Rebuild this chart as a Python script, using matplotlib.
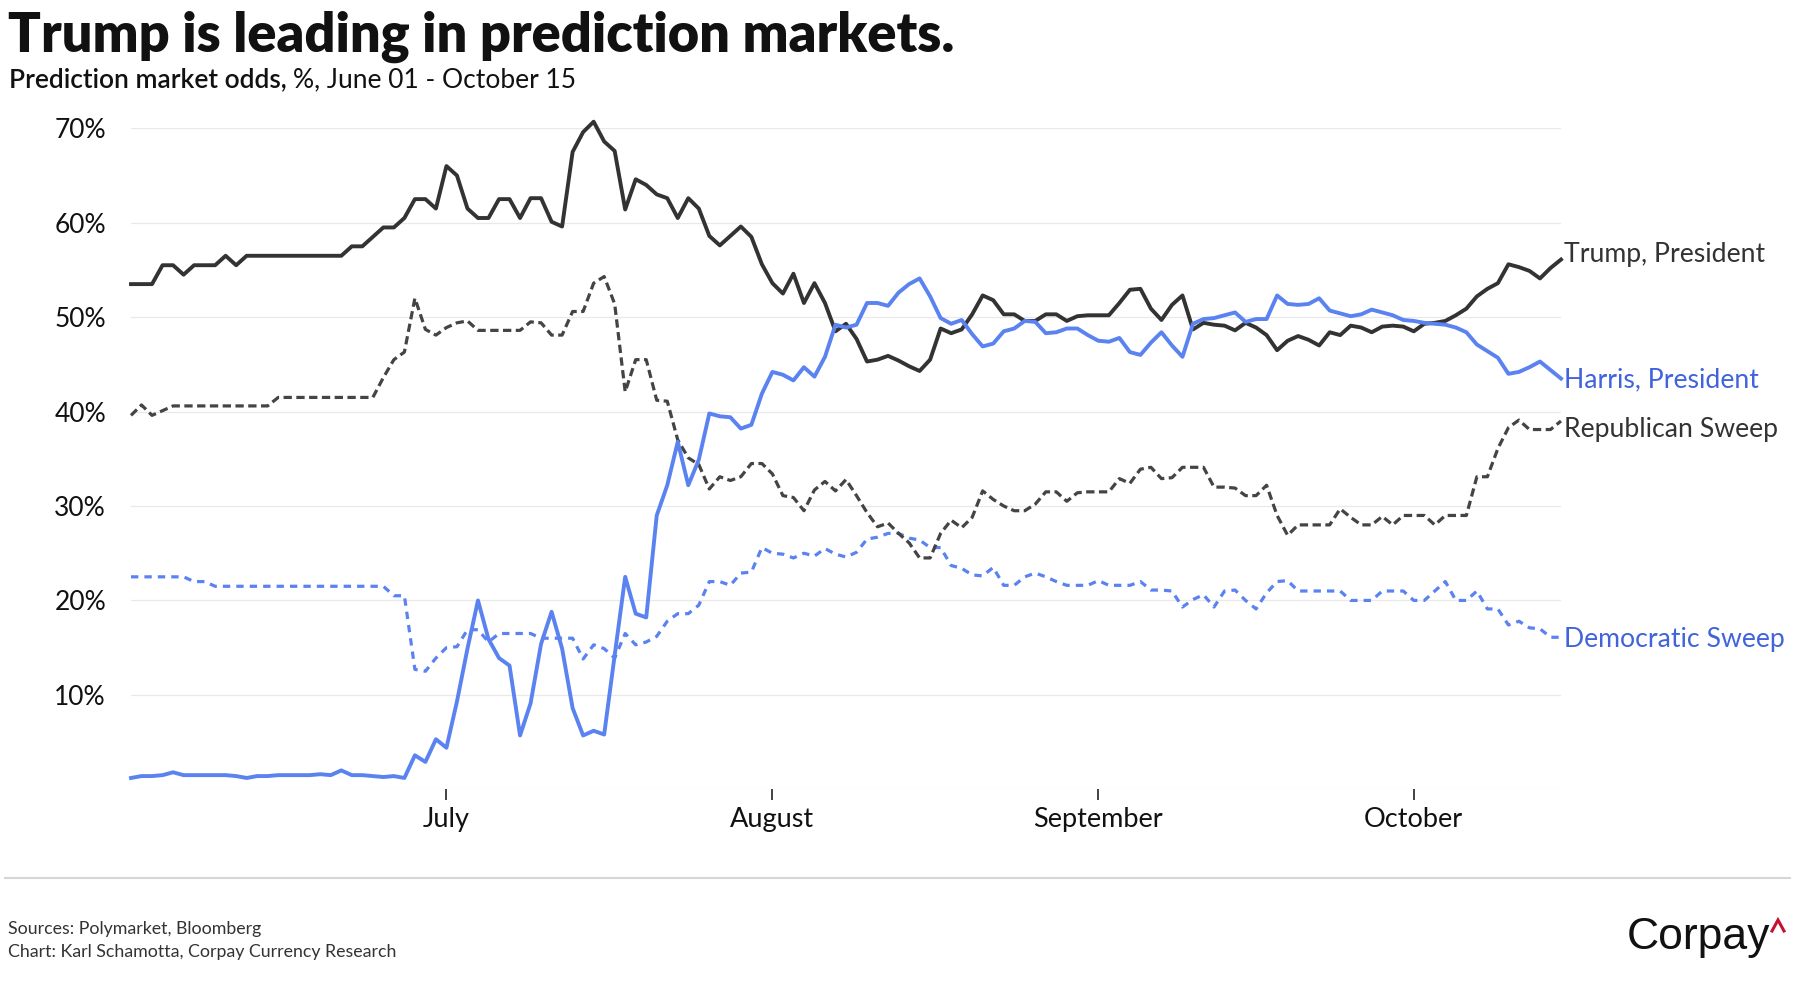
import matplotlib
matplotlib.use('Agg')
import numpy as np
import pandas as pd
import matplotlib.pyplot as plt
import matplotlib.dates as mdates
from matplotlib.ticker import FuncFormatter
from matplotlib.lines import Line2D

plt.rcParams['font.family'] = ['Lato', 'DejaVu Sans']

# ── Data: daily prediction market odds (%), June 01 - October 15 ──
dates = pd.date_range('2024-06-01', '2024-10-15', freq='D')

trump_president = [
    53.5, 53.5, 53.5, 55.5, 55.5, 54.5, 55.5, 55.5, 55.5, 56.5,
    55.5, 56.5, 56.5, 56.5, 56.5, 56.5, 56.5, 56.5, 56.5, 56.5,
    56.5, 57.5, 57.5, 58.5, 59.5, 59.5, 60.5, 62.5, 62.5, 61.5,
    66.0, 65.0, 61.5, 60.5, 60.5, 62.5, 62.5, 60.5, 62.6, 62.6,
    60.1, 59.6, 67.5, 69.6, 70.7, 68.6, 67.6, 61.4, 64.6, 64.0,
    63.0, 62.6, 60.5, 62.6, 61.5, 58.6, 57.6, 58.6, 59.6, 58.5,
    55.6, 53.6, 52.5, 54.6, 51.5, 53.6, 51.5, 48.5, 49.3, 47.7,
    45.3, 45.5, 45.9, 45.4, 44.8, 44.3, 45.5, 48.8, 48.3, 48.7,
    50.3, 52.3, 51.8, 50.3, 50.3, 49.6, 49.6, 50.3, 50.3, 49.6,
    50.1, 50.2, 50.2, 50.2, 51.5, 52.9, 53.0, 50.9, 49.7, 51.3,
    52.3, 48.7, 49.4, 49.2, 49.1, 48.6, 49.4, 48.9, 48.1, 46.5,
    47.5, 48.0, 47.6, 47.0, 48.4, 48.1, 49.1, 48.9, 48.4, 49.0,
    49.1, 49.0, 48.5, 49.3, 49.4, 49.6, 50.2, 50.9, 52.2, 53.0,
    53.6, 55.6, 55.3, 54.9, 54.1, 55.2, 56.1,
]

harris_president = [
    1.2, 1.4, 1.4, 1.5, 1.8, 1.5, 1.5, 1.5, 1.5, 1.5,
    1.4, 1.2, 1.4, 1.4, 1.5, 1.5, 1.5, 1.5, 1.6, 1.5,
    2.0, 1.5, 1.5, 1.4, 1.3, 1.4, 1.2, 3.6, 2.9, 5.3,
    4.4, 9.3, 14.9, 20.0, 15.9, 13.9, 13.1, 5.7, 9.1, 15.4,
    18.8, 14.9, 8.6, 5.7, 6.2, 5.8, 14.2, 22.5, 18.6, 18.2,
    29.0, 32.2, 36.8, 32.2, 34.9, 39.8, 39.5, 39.4, 38.2, 38.6,
    41.9, 44.2, 43.9, 43.3, 44.7, 43.7, 45.8, 49.2, 48.9, 49.2,
    51.5, 51.5, 51.2, 52.6, 53.5, 54.1, 52.2, 49.9, 49.3, 49.7,
    48.2, 46.9, 47.2, 48.5, 48.8, 49.6, 49.5, 48.3, 48.4, 48.8,
    48.8, 48.1, 47.5, 47.4, 47.8, 46.3, 46.0, 47.3, 48.4, 47.0,
    45.8, 49.3, 49.8, 49.9, 50.2, 50.5, 49.5, 49.8, 49.8, 52.3,
    51.4, 51.3, 51.4, 52.0, 50.7, 50.4, 50.1, 50.3, 50.8, 50.5,
    50.2, 49.7, 49.6, 49.4, 49.3, 49.2, 48.9, 48.4, 47.1, 46.4,
    45.7, 44.0, 44.2, 44.7, 45.3, 44.4, 43.5,
]

republican_sweep = [
    39.6, 40.7, 39.6, 40.1, 40.6, 40.6, 40.6, 40.6, 40.6, 40.6,
    40.6, 40.6, 40.6, 40.6, 41.5, 41.5, 41.5, 41.5, 41.5, 41.5,
    41.5, 41.5, 41.5, 41.5, 43.6, 45.5, 46.3, 52.0, 48.7, 48.1,
    48.9, 49.4, 49.6, 48.6, 48.6, 48.6, 48.6, 48.6, 49.5, 49.4,
    48.1, 48.1, 50.6, 50.6, 53.6, 54.3, 51.4, 42.1, 45.5, 45.5,
    41.2, 41.1, 37.0, 35.1, 34.4, 31.8, 33.1, 32.7, 33.1, 34.5,
    34.5, 33.4, 31.1, 30.9, 29.5, 31.7, 32.6, 31.6, 32.8, 31.1,
    29.3, 27.8, 28.2, 27.1, 26.1, 24.5, 24.5, 27.1, 28.5, 27.7,
    28.8, 31.6, 30.7, 30.0, 29.5, 29.5, 30.2, 31.5, 31.5, 30.5,
    31.4, 31.5, 31.5, 31.5, 32.9, 32.4, 33.9, 34.1, 32.9, 33.0,
    34.1, 34.1, 34.1, 32.0, 32.0, 31.9, 31.1, 31.1, 32.2, 29.0,
    26.9, 28.0, 28.0, 28.0, 28.0, 29.7, 28.8, 28.0, 28.0, 28.9,
    28.0, 29.0, 29.0, 29.0, 28.0, 29.0, 29.0, 29.0, 33.1, 33.1,
    36.1, 38.3, 39.1, 38.1, 38.1, 38.1, 39.0,
]

democratic_sweep = [
    22.5, 22.5, 22.5, 22.5, 22.5, 22.5, 22.0, 22.0, 21.5, 21.5,
    21.5, 21.5, 21.5, 21.5, 21.5, 21.5, 21.5, 21.5, 21.5, 21.5,
    21.5, 21.5, 21.5, 21.5, 21.5, 20.5, 20.5, 12.7, 12.5, 13.9,
    15.0, 15.1, 16.9, 16.9, 15.6, 16.5, 16.5, 16.5, 16.5, 16.0,
    16.0, 16.0, 16.0, 13.8, 15.3, 14.9, 13.9, 16.5, 15.3, 15.6,
    16.2, 17.8, 18.6, 18.6, 19.5, 22.0, 22.0, 21.6, 22.9, 23.0,
    25.6, 25.0, 24.9, 24.5, 25.0, 24.7, 25.5, 24.9, 24.6, 25.1,
    26.5, 26.7, 27.1, 27.1, 26.6, 26.4, 25.6, 25.6, 23.7, 23.4,
    22.7, 22.6, 23.5, 21.6, 21.6, 22.5, 22.9, 22.5, 22.0, 21.6,
    21.6, 21.6, 22.1, 21.6, 21.6, 21.6, 22.0, 21.1, 21.1, 21.0,
    19.3, 20.1, 20.6, 19.3, 21.0, 21.1, 20.0, 19.1, 20.8, 22.0,
    22.1, 21.0, 21.0, 21.0, 21.0, 21.0, 20.0, 20.0, 20.0, 21.0,
    21.0, 21.0, 20.0, 20.0, 21.0, 22.0, 20.0, 20.0, 21.0, 19.1,
    19.1, 17.4, 17.8, 17.1, 17.0, 16.1, 16.1,
]

month_ticks = pd.to_datetime(['2024-07-01', '2024-08-01', '2024-09-01', '2024-10-01'])
y_ticks = [0, 10, 20, 30, 40, 50, 60, 70]

DARK = '#333333'
DARK_DASH = '#444444'
BLUE = '#5a82f0'
BLUE_TXT = '#4163dc'

# ── Figure ──
W, H = 1797, 1000
fig = plt.figure(figsize=(W / 100, H / 100), dpi=100)
fig.patch.set_facecolor('white')
ax = fig.add_axes([131 / W, 1 - 789.3 / H, (1561 - 131) / W, (789.3 - 128.3) / H])

ax.plot(dates, democratic_sweep, color=BLUE, lw=2.3, dashes=(2.3, 1.9), zorder=3, clip_on=False)
ax.plot(dates, republican_sweep, color=DARK_DASH, lw=2.3, dashes=(2.6, 1.4), zorder=3, clip_on=False)
ax.plot(dates, trump_president, color=DARK, lw=2.8, zorder=4, clip_on=False)
ax.plot(dates, harris_president, color=BLUE, lw=2.8, zorder=5, clip_on=False)

ax.set_xlim(dates[0], dates[-1])
ax.set_ylim(0, 70)
ax.set_yticks(y_ticks)
ax.yaxis.set_major_formatter(FuncFormatter(lambda v, p: '' if v == 0 else f'{v:.0f}%'))
ax.set_xticks(month_ticks)
ax.xaxis.set_major_formatter(mdates.DateFormatter('%B'))

ax.grid(axis='y', color='#e9e9e9', lw=0.9)
ax.set_axisbelow(True)
for s in ax.spines.values():
    s.set_visible(False)
ax.tick_params(axis='y', length=0, pad=18, labelsize=19, labelcolor='#111111')
ax.tick_params(axis='x', direction='out', length=8, width=1.1, color='#111111',
               pad=4.5, labelsize=19.5, labelcolor='#111111')

# ── End-of-line labels ──
labels = [
    ('Trump, President', trump_president, DARK, -2.0),
    ('Harris, President', harris_president, BLUE_TXT, -6.0),
    ('Republican Sweep', republican_sweep, DARK, -11.3),
    ('Democratic Sweep', democratic_sweep, BLUE_TXT, -7.0),
]
for text, series, col, dy in labels:
    ax.annotate(text, xy=(dates[-1], series[-1]), xytext=(2.0, dy),
                textcoords='offset points', va='baseline', ha='left',
                fontsize=19.2, color=col, annotation_clip=False)

# ── Titles ──
fig.text(8 / W, 1 - 52 / H, 'Trump is leading in prediction markets.',
         fontsize=39, fontweight='heavy', color='#111111', va='baseline', ha='left')
t1 = fig.text(9 / W, 1 - 87 / H, 'Prediction market odds,', fontsize=19,
              fontweight='semibold', color='#111111', va='baseline', ha='left')
fig.canvas.draw()
bb = t1.get_window_extent()
fig.text((bb.x1 + 6) / W, 1 - 87 / H, '%, June 01 - October 15', fontsize=19,
         color='#111111', va='baseline', ha='left')

# ── Footer ──
fig.add_artist(Line2D([5 / W, 1790 / W], [1 - 878 / H, 1 - 878 / H],
                      color='#d6d6d6', lw=1.5, transform=fig.transFigure))
fig.text(8 / W, 1 - 934 / H, 'Sources: Polymarket, Bloomberg', fontsize=12.8,
         color='#333333', va='baseline', ha='left')
fig.text(8 / W, 1 - 957 / H, 'Chart: Karl Schamotta, Corpay Currency Research',
         fontsize=12.8, color='#333333', va='baseline', ha='left')
fig.text(1627 / W, 1 - 949 / H, 'Corpay', fontsize=32, color='#111111',
         family=['Liberation Sans', 'DejaVu Sans'], va='baseline', ha='left')
fig.add_artist(Line2D([1772 / W, 1778 / W, 1784 / W],
                      [1 - 931 / H, 1 - 920 / H, 1 - 931 / H],
                      color='#c8102e', lw=2.2, solid_joinstyle='miter',
                      transform=fig.transFigure))

fig.savefig('out.png', dpi=100, facecolor='white')
